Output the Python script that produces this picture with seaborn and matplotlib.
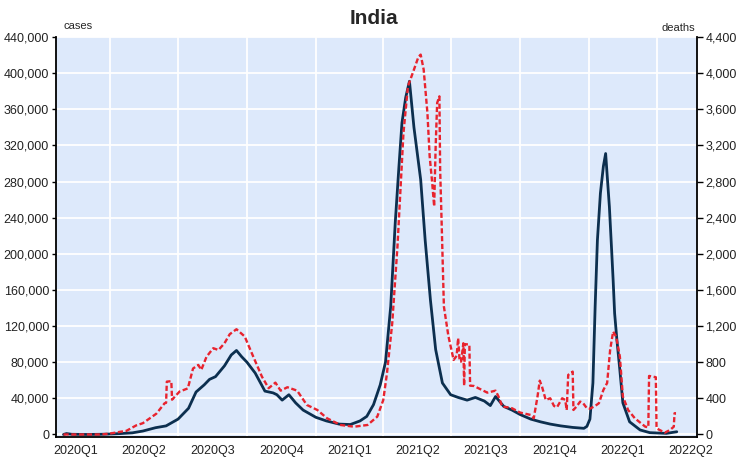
import pandas as pd
import seaborn as sns
import matplotlib.pyplot as plt
import matplotlib.dates as mdates
from matplotlib.ticker import FuncFormatter

# daily new cases, 7-day average
case_dates = [
    '2020-01-30', '2020-02-03', '2020-02-10', '2020-03-01', '2020-03-20', '2020-04-01',
    '2020-04-15', '2020-05-01', '2020-05-15', '2020-06-01', '2020-06-15', '2020-07-01',
    '2020-07-15', '2020-07-25', '2020-08-05', '2020-08-12', '2020-08-20', '2020-09-01',
    '2020-09-10', '2020-09-17', '2020-09-24', '2020-10-01', '2020-10-12', '2020-10-25',
    '2020-11-05', '2020-11-10', '2020-11-17', '2020-11-26', '2020-12-05', '2020-12-15',
    '2021-01-01', '2021-01-15', '2021-02-01', '2021-02-16', '2021-03-01', '2021-03-10',
    '2021-03-19', '2021-03-28', '2021-04-04', '2021-04-11', '2021-04-17', '2021-04-22',
    '2021-04-26', '2021-05-01', '2021-05-06', '2021-05-12', '2021-05-21', '2021-05-27',
    '2021-06-03', '2021-06-10', '2021-06-19', '2021-06-30', '2021-07-10', '2021-07-22',
    '2021-08-02', '2021-08-14', '2021-08-22', '2021-08-29', '2021-09-09', '2021-09-20',
    '2021-10-01', '2021-10-15', '2021-10-28', '2021-11-10', '2021-11-24', '2021-12-10',
    '2021-12-25', '2021-12-29', '2022-01-02', '2022-01-06', '2022-01-09', '2022-01-12',
    '2022-01-16', '2022-01-20', '2022-01-23', '2022-01-28', '2022-01-31', '2022-02-02',
    '2022-02-04', '2022-02-07', '2022-02-11', '2022-02-15', '2022-02-24', '2022-03-10',
    '2022-03-23', '2022-04-14', '2022-04-28',
]
case_values = [
    0, 1000, 200, 0, 200, 500,
    1000, 1800, 3800, 7500, 9500, 17000,
    29000, 47000, 55000, 61000, 64000, 76000,
    88000, 93000, 86000, 80000, 68000, 48000,
    46000, 44000, 38000, 44000, 35000, 27000,
    19000, 15000, 11500, 11000, 15000, 20000,
    33000, 55000, 80000, 142000, 234000, 297000,
    345000, 373000, 391000, 340000, 282000, 215000,
    149000, 94000, 57000, 44000, 41000, 38000,
    41000, 37000, 32000, 42000, 31000, 27000,
    22000, 17000, 14000, 11500, 9500, 7800,
    6800, 9000, 17000, 57000, 142000, 215000,
    267000, 297000, 311000, 252000, 204000, 171000,
    134000, 105000, 71000, 35000, 14000, 5000,
    2000, 1200, 3000,
]

# daily new deaths, 7-day average
death_dates = [
    '2020-01-30', '2020-03-20', '2020-04-01', '2020-04-15', '2020-04-23', '2020-05-06',
    '2020-05-15', '2020-06-02', '2020-06-13', '2020-06-15', '2020-06-16', '2020-06-22',
    '2020-06-23', '2020-07-03', '2020-07-14', '2020-07-21', '2020-07-28', '2020-08-01',
    '2020-08-08', '2020-08-17', '2020-08-24', '2020-09-01', '2020-09-08', '2020-09-17',
    '2020-09-28', '2020-10-09', '2020-10-21', '2020-10-30', '2020-11-08', '2020-11-15',
    '2020-11-24', '2020-12-07', '2020-12-20', '2021-01-03', '2021-01-16', '2021-02-03',
    '2021-02-21', '2021-03-11', '2021-03-24', '2021-04-01', '2021-04-06', '2021-04-13',
    '2021-04-20', '2021-04-24', '2021-04-28', '2021-05-04', '2021-05-12', '2021-05-18',
    '2021-05-21', '2021-05-25', '2021-05-30', '2021-06-02', '2021-06-05', '2021-06-08',
    '2021-06-10', '2021-06-12', '2021-06-15', '2021-06-16', '2021-06-18', '2021-06-21',
    '2021-06-27', '2021-07-04', '2021-07-08', '2021-07-10', '2021-07-12', '2021-07-14',
    '2021-07-17', '2021-07-18', '2021-07-19', '2021-07-25', '2021-07-26', '2021-07-31',
    '2021-08-09', '2021-08-18', '2021-08-29', '2021-09-02', '2021-09-07', '2021-09-14',
    '2021-09-20', '2021-10-01', '2021-10-15', '2021-10-19', '2021-10-24', '2021-10-27',
    '2021-10-30', '2021-11-04', '2021-11-10', '2021-11-15', '2021-11-19', '2021-11-26',
    '2021-11-30', '2021-12-02', '2021-12-04', '2021-12-10', '2021-12-11', '2021-12-15',
    '2021-12-20', '2021-12-24', '2021-12-29', '2022-01-02', '2022-01-09', '2022-01-14',
    '2022-01-20', '2022-01-25', '2022-01-29', '2022-02-02', '2022-02-06', '2022-02-11',
    '2022-02-13', '2022-02-15', '2022-02-22', '2022-03-03', '2022-03-17', '2022-03-21',
    '2022-03-22', '2022-03-31', '2022-04-01', '2022-04-05', '2022-04-12', '2022-04-19',
    '2022-04-24', '2022-04-25', '2022-04-27',
]
death_values = [
    0, 0, 10, 30, 40, 100,
    125, 230, 345, 350, 585, 590,
    385, 475, 510, 730, 770, 715,
    860, 955, 935, 1010, 1110, 1165,
    1085, 870, 640, 512, 574, 485,
    523, 485, 327, 271, 179, 105,
    86, 105, 197, 380, 678, 1232,
    2081, 2709, 3337, 3854, 4039, 4180,
    4205, 4039, 3559, 3078, 2820, 2524,
    3190, 3670, 3743, 2931, 2340, 1416,
    1090, 825, 870, 1066, 810, 807,
    1010, 540, 1000, 995, 540, 537,
    500, 463, 485, 419, 308, 301,
    290, 242, 216, 179, 419, 596,
    530, 382, 401, 316, 301, 401,
    382, 271, 659, 696, 271, 308,
    364, 346, 290, 285, 316, 346,
    493, 570, 936, 1139, 1084, 862,
    640, 420, 271, 179, 86, 80,
    648, 634, 68, 50, 20, 50,
    86, 235, 235,
]

quarter_labels = ['2020Q1', '2020Q2', '2020Q3', '2020Q4', '2021Q1',
                  '2021Q2', '2021Q3', '2021Q4', '2022Q1', '2022Q2']

cases = pd.DataFrame({'date': pd.to_datetime(case_dates), 'cases': case_values})
deaths = pd.DataFrame({'date': pd.to_datetime(death_dates), 'deaths': death_values})

navy = '#0c2f4f'
red = '#e8232e'

sns.set_style('white')
plt.rcParams['font.family'] = ['Liberation Sans', 'DejaVu Sans']

fig = plt.figure(figsize=(7.38, 4.59), dpi=100)
ax = fig.add_axes([56 / 738, 22 / 459, 641 / 738, 400 / 459])
ax.set_facecolor('#dde9fb')
ax2 = ax.twinx()

sns.lineplot(data=cases, x='date', y='cases', ax=ax, color=navy, linewidth=2.0)
sns.lineplot(data=deaths, x='date', y='deaths', ax=ax2, color=red, linewidth=1.7)
ax2.lines[-1].set_dashes([2.2, 1.1])

ax.set_xlim(pd.Timestamp('2020-01-20'), pd.Timestamp('2022-05-25'))
ax.set_ylim(-2800, 440000)
ax2.set_ylim(-28, 4400)
ax.set_yticks(range(0, 440001, 40000))
ax2.set_yticks(range(0, 4401, 400))
fmt = FuncFormatter(lambda v, p: f'{int(v):,}')
ax.yaxis.set_major_formatter(fmt)
ax2.yaxis.set_major_formatter(fmt)

# quarter boundaries get tick marks, quarter names sit in the middle
ax.xaxis.set_major_locator(mdates.MonthLocator(bymonth=[1, 4, 7, 10]))
ax.xaxis.set_major_formatter(plt.NullFormatter())
periods = [pd.Period(q, freq='Q') for q in quarter_labels]
mids = [p.start_time + (p.end_time - p.start_time) / 2 for p in periods]
ax.set_xticks(mids, minor=True)
ax.set_xticklabels(quarter_labels, minor=True)

ax.set_xlabel('')
ax.set_ylabel('')
ax2.set_ylabel('')
ax.set_axisbelow(True)
ax.grid(True, which='major', color='white', linewidth=1.3)
ax2.grid(False)

ax.tick_params(axis='x', which='major', direction='out', length=5, width=1.1, color='black')
ax.tick_params(axis='x', which='minor', length=0, labelsize=9, pad=6, labelcolor='#222222')
ax.tick_params(axis='y', direction='out', length=3, width=1, pad=2, labelsize=9,
               color='black', labelcolor='#222222', left=True)
ax2.tick_params(axis='y', direction='out', length=4, width=1, pad=2, labelsize=9,
                color='black', labelcolor='#222222', right=True)

for s in ['top', 'right']:
    ax.spines[s].set_visible(False)
for s in ['top', 'left', 'bottom']:
    ax2.spines[s].set_visible(False)
for s in ['left', 'bottom']:
    ax.spines[s].set_color('black')
    ax.spines[s].set_linewidth(1.3)
ax2.spines['right'].set_color('black')
ax2.spines['right'].set_linewidth(1.3)

fig.text(374 / 738, 1 - 18 / 459, 'India', ha='center', va='center',
         fontsize=15, fontweight='bold')
fig.text(63 / 738, 1 - 29 / 459, 'cases', ha='left', va='baseline', fontsize=8)
fig.text(695 / 738, 1 - 31 / 459, 'deaths', ha='right', va='baseline', fontsize=8)

fig.savefig('out.png', dpi=100)
